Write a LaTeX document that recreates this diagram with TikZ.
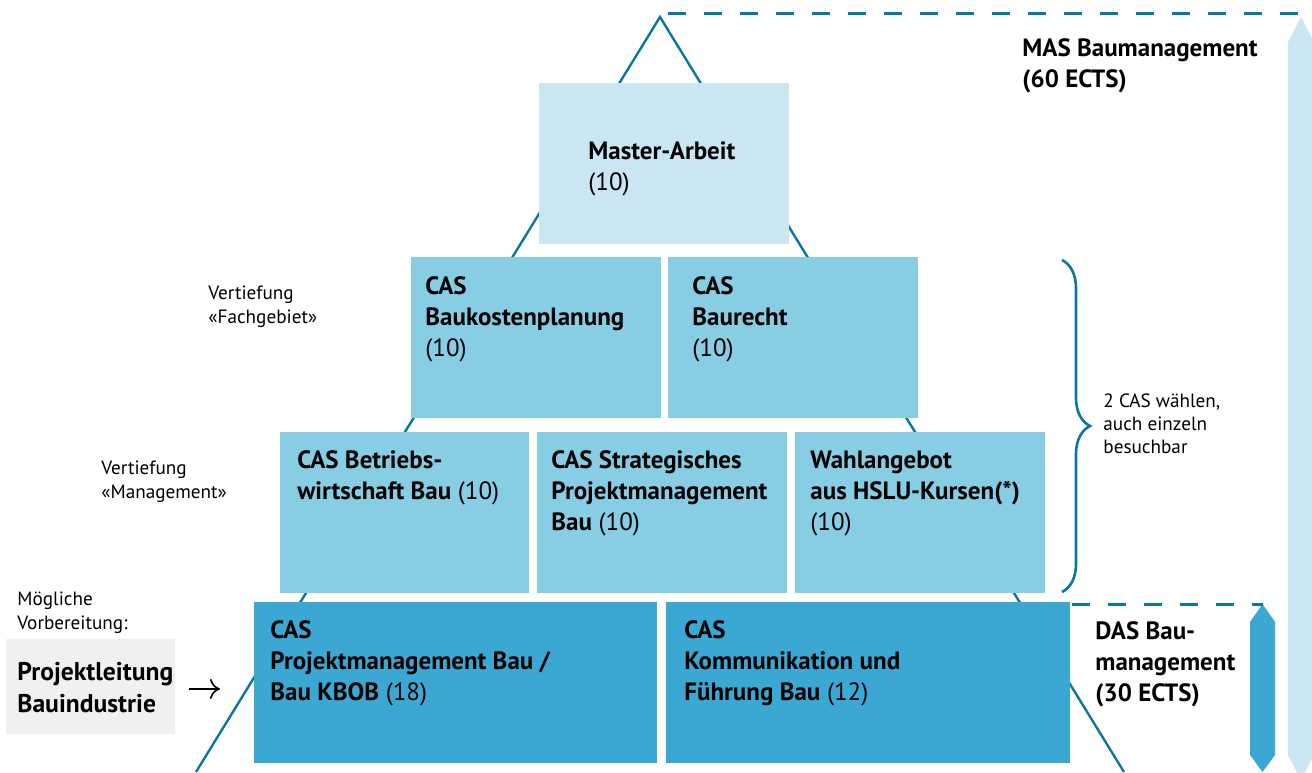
\documentclass[tikz,border=0pt]{standalone}
\usepackage{fontspec}
\setmainfont{PT Sans}
\usepackage{tikz}
\usetikzlibrary{arrows.meta}
\usetikzlibrary{calc}
\usetikzlibrary{decorations.pathreplacing}
\definecolor{hslu}{HTML}{0A77A1}
\definecolor{lvlight}{HTML}{C9E6F2}
\definecolor{lvmid}{HTML}{87CEE4}
\definecolor{lvdark}{HTML}{3BA8D3}
\definecolor{prepgray}{HTML}{F0F0F0}
\tikzstyle{modbox}=[anchor=north west,inner sep=0pt,outer sep=0pt,minimum height=80.5pt]
\tikzstyle{lva}=[modbox,fill=lvlight]
\tikzstyle{lvb}=[modbox,fill=lvmid]
\tikzstyle{lvc}=[modbox,fill=lvdark]
% text nodes sit on the baseline of their last line
\tikzstyle{modtxt}=[anchor=base west,inner sep=0pt,align=left,font=\fontsize{12.5}{15.5}\selectfont]
\tikzstyle{note}=[anchor=base west,inner sep=0pt,align=left,font=\fontsize{9.6}{12}\selectfont]
\tikzstyle{pyr}=[line width=1.2pt,hslu]
\tikzstyle{dashspan}=[line width=1.5pt,hslu,dash pattern=on 9pt off 9pt]

\begin{document}
\begin{tikzpicture}[x=0.5pt,y=-0.5pt]
  \useasboundingbox (0,0) rectangle (1312,772);
  % pyramid outline
  \coordinate (top) at (660,17);
  \coordinate (bl) at (196,772);
  \coordinate (br) at (1124,772);
  \draw[pyr] (bl) -- (top) -- (br);
  % span arrows on the right
  \coordinate (mas-tip) at (1301,13);
  \coordinate (das-tip) at (1262.5,604);
  \fill[lvlight] (1288,42) -- (1301,17) -- (1314,42) -- (1314,755) -- (1301,780) -- (1288,755) -- cycle;
  \fill[lvdark] (1250,622) -- (das-tip) -- (1275,622) -- (1275,755) -- (1262.5,772) -- (1250,755) -- cycle;
  \draw[dashspan] ([xshift=4pt]top |- mas-tip) -- (mas-tip);
  \draw[dashspan] (1072,604) -- (das-tip);
  % modules
  \node[lva,minimum width=125pt] (ma) at (539,83) {};
  \node[lvb,minimum width=125pt] (bkp) at (411,257) {};
  \node[lvb,minimum width=125pt] (brt) at (668,257) {};
  \node[lvb,minimum width=124.5pt] (bwl) at (280,432) {};
  \node[lvb,minimum width=125pt] (spm) at (537,432) {};
  \node[lvb,minimum width=125pt] (wahl) at (795,432) {};
  \node[lvc,minimum width=201.5pt] (pmb) at (254,602) {};
  \node[lvc,minimum width=202pt] (kfb) at (666,602) {};
  \node[modtxt] (ma-t) at ([shift={(49,107)}]ma.north west) {\textbf{Master-Arbeit}\\(10)};
  \node[modtxt] (bkp-t) at ([shift={(14,99)}]bkp.north west) {\textbf{CAS}\\\textbf{Baukostenplanung}\\(10)};
  \node[modtxt] (brt-t) at ([shift={(24,99)}]brt.north west) {\textbf{CAS}\\\textbf{Baurecht}\\(10)};
  \node[modtxt] (bwl-t) at ([shift={(17,67)}]bwl.north west) {\textbf{CAS Betriebs-}\\\textbf{wirtschaft Bau} (10)};
  \node[modtxt] (spm-t) at ([shift={(14,98)}]spm.north west) {\textbf{CAS Strategisches}\\\textbf{Projektmanagement}\\\textbf{Bau} (10)};
  \node[modtxt] (wahl-t) at ([shift={(15,98)}]wahl.north west) {\textbf{Wahlangebot}\\\textbf{aus HSLU-Kursen(*)}\\(10)};
  \node[modtxt] (pmb-t) at ([shift={(16,98)}]pmb.north west) {\textbf{CAS}\\\textbf{Projektmanagement Bau /}\\\textbf{Bau KBOB} (18)};
  \node[modtxt] (kfb-t) at ([shift={(18,98)}]kfb.north west) {\textbf{CAS}\\\textbf{Kommunikation und}\\\textbf{Führung Bau} (12)};
  % titles
  \node[modtxt] (mas) at (1022,87) {\textbf{MAS Baumanagement}\\\textbf{(60 ECTS)}};
  \node[modtxt] (das) at (1095,701) {\textbf{DAS Bau-}\\\textbf{management}\\\textbf{(30 ECTS)}};
  % notes
  \node[note] (vt-fach) at (208,323) {Vertiefung\\«Fachgebiet»};
  \node[note] (vt-man) at (101,498) {Vertiefung\\«Management»};
  \node[note] (vorb) at (17,629) {Mögliche\\Vorbereitung:};
  \draw[line width=1.3pt,hslu,decorate,decoration={brace,amplitude=14pt}] (1062,260) -- (1062,592);
  \node[note,font=\fontsize{9.6}{11.5}\selectfont] (wahl-n) at (1103,453) {2 CAS wählen,\\auch einzeln\\besuchbar};
  % preparation
  \node[anchor=north west,fill=prepgray,inner sep=0pt,minimum width=84.5pt,minimum height=47.5pt] (prep) at (6,639) {};
  \node[modtxt,font=\fontsize{12.8}{16}\selectfont] (prep-t) at (17,712) {\textbf{Projektleitung}\\\textbf{Bauindustrie}};
  \draw[-{To[length=5pt,width=10pt]},line width=0.8pt,shorten <=6.5pt,shorten >=17pt] ([yshift=-1pt]prep.east) -- ([yshift=-1pt]prep.east -| pmb.west);
\end{tikzpicture}
\end{document}
